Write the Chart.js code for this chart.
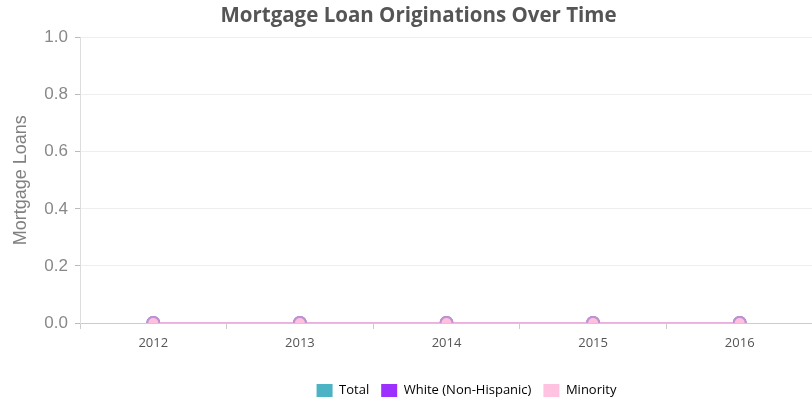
<!DOCTYPE html>
<html>
<head>
<meta charset="utf-8">
<script src="https://cdn.jsdelivr.net/npm/chart.js@4"></script>
<style>
  html, body { margin: 0; padding: 0; background: #fff; overflow: hidden; }
  #wrap { width: 838px; height: 402px; }
</style>
</head>
<body>
<div id="wrap"><canvas id="loans"></canvas></div>
<script>
const years = ['2012', '2013', '2014', '2015', '2016'];
const totalLoans = [0, 0, 0, 0, 0];
const whiteLoans = [0, 0, 0, 0, 0];
const minorityLoans = [0, 0, 0, 0, 0];
const yTicks = [0, 0.2, 0.4, 0.6, 0.8, 1.0];

// move title and legend a little, like the original
const nudge = {
    id: 'nudge',
    afterLayout(chart) {
        chart.titleBlock.left += 8;
        chart.titleBlock.right += 8;
        chart.legend.left += 56;
        chart.legend.right += 56;
        chart.legend.top += 5;
        chart.legend.bottom += 5;
    }
};

// points sit on the bottom edge and get cut in half
const clipPlot = {
    id: 'clipPlot',
    beforeDatasetsDraw(chart) {
        const a = chart.chartArea;
        chart.ctx.save();
        chart.ctx.beginPath();
        chart.ctx.rect(a.left, a.top, a.right - a.left, a.bottom - a.top);
        chart.ctx.clip();
    },
    afterDatasetsDraw(chart) {
        chart.ctx.restore();
    }
};

const ctx = document.getElementById('loans').getContext('2d');
const myChart = new Chart(ctx, {
    type: 'line',
    plugins: [nudge, clipPlot],
    data: {
        labels: years,
        datasets: [
            {
                label: 'Total',
                data: totalLoans,
                order: 3,
                borderColor: 'rgb(75, 179, 196)',
                backgroundColor: 'rgb(75, 179, 196)',
                pointBackgroundColor: 'rgb(75, 179, 196)',
                borderWidth: 2,
                pointRadius: 6
            },
            {
                label: 'White (Non-Hispanic)',
                data: whiteLoans,
                order: 2,
                borderColor: 'rgb(170, 130, 220)',
                backgroundColor: 'rgb(155, 48, 255)',
                pointBackgroundColor: 'rgb(255, 192, 224)',
                pointBorderColor: 'rgb(180, 130, 210)',
                borderWidth: 2,
                pointRadius: 6
            },
            {
                label: 'Minority',
                data: minorityLoans,
                order: 1,
                borderColor: 'rgb(236, 176, 222)',
                backgroundColor: 'rgb(255, 194, 224)',
                pointBackgroundColor: 'rgb(255, 192, 224)',
                pointBorderColor: 'rgb(195, 145, 210)',
                borderWidth: 2,
                pointRadius: 6
            }
        ]
    },
    options: {
        responsive: true,
        maintainAspectRatio: false,
        animation: false,
        layout: { padding: { left: 8, right: 25, top: 0, bottom: 0 } },
        plugins: {
            title: {
                display: true,
                text: 'Mortgage Loan Originations Over Time',
                color: '#555',
                font: { family: 'Open Sans', size: 20.5, weight: 'bold' },
                padding: { top: 4, bottom: 9 }
            },
            legend: {
                position: 'bottom',
                labels: {
                    color: '#666',
                    font: { family: 'Open Sans', size: 13 },
                    boxWidth: 16,
                    boxHeight: 13,
                    padding: 12,
                    generateLabels: (chart) => chart.data.datasets.map((ds, i) => ({
                        text: ds.label,
                        fillStyle: ds.backgroundColor,
                        strokeStyle: ds.backgroundColor,
                        lineWidth: 0,
                        datasetIndex: i
                    }))
                }
            },
            tooltip: { enabled: false }
        },
        scales: {
            x: {
                offset: true,
                grid: {
                    offset: true,
                    drawOnChartArea: false,
                    tickLength: 6,
                    color: '#ccc'
                },
                border: { color: '#ccc' },
                ticks: {
                    color: '#555',
                    font: { family: 'Open Sans', size: 13 },
                    padding: 6
                },
                afterFit: (scale) => { scale.height = 44; }
            },
            y: {
                min: 0,
                max: 1,
                afterBuildTicks: (scale) => { scale.ticks = yTicks.map(v => ({ value: v })); },
                afterFit: (scale) => { scale.width = 72; },
                grid: { color: '#eee', tickLength: 5, tickColor: '#bbb' },
                border: { color: '#ddd' },
                ticks: {
                    color: '#888',
                    font: { family: 'Liberation Sans', size: 17 },
                    padding: 7,
                    callback: (v) => Number(v).toFixed(1)
                },
                title: {
                    display: true,
                    text: 'Mortgage Loans',
                    color: '#808080',
                    font: { family: 'Liberation Sans', size: 18 },
                    padding: { top: 2, bottom: 6 }
                }
            }
        }
    }
});
</script>
</body>
</html>
